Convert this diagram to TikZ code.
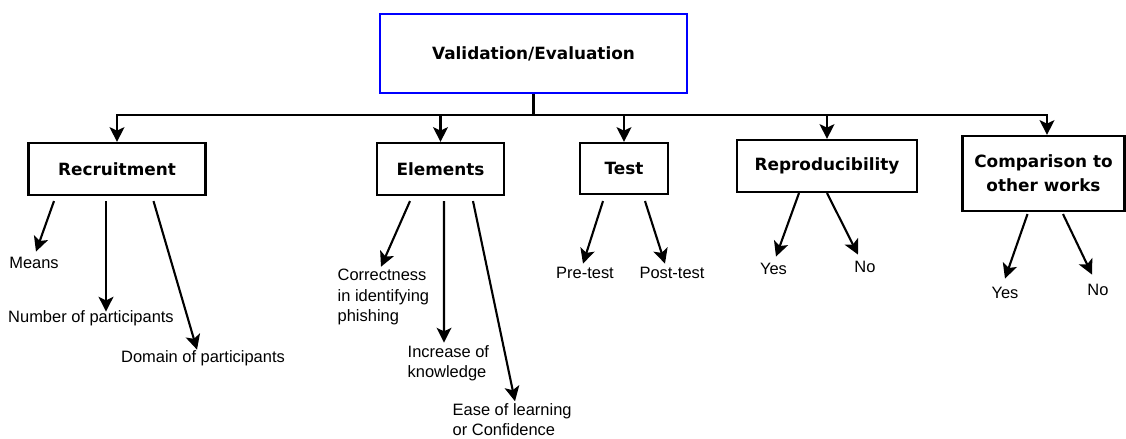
\documentclass[tikz,border=0pt]{standalone}
\usepackage{fontspec}
\setmainfont{Liberation Sans}
\newfontfamily\boxfont{DejaVu Sans}
\usetikzlibrary{arrows.meta,calc}
\tikzset{
    box/.style={draw, line width=1.5pt, inner sep=2pt, align=center,
        font=\boxfont\bfseries\fontsize{12}{17}\selectfont},
    leaf/.style={inner sep=1pt, align=left, font=\fontsize{11.7}{14.3}\selectfont},
    arr/.style={line width=1.5pt, -{Stealth[length=10.5pt,width=10.5pt,inset=2.5pt]}}
}
\begin{document}
\begin{tikzpicture}[x=0.025cm, y=-0.025cm]
            \useasboundingbox (0,0) rectangle (1126,439);
            \node (b0) at (533.5,53.5) [box, draw=blue, minimum width=7.675cm, minimum height=1.975cm] {Validation/Evaluation};
            \node (b1) at (117,169) [box, minimum width=4.425cm, minimum height=1.3cm] {Recruitment};
            \node (b2) at (440.5,169) [box, minimum width=3.175cm, minimum height=1.3cm] {Elements};
            \node (b3) at (624,168.5) [box, minimum width=2.2cm, minimum height=1.275cm] {Test};
            \node (b4) at (827,166) [box, minimum width=4.5cm, minimum height=1.3cm] {Reproducibility};
            \node (b5) at (1043.5,173.5) [box, minimum width=4.05cm, minimum height=1.875cm] {Comparison to\\other works};
            \draw[arr] (b0.south) -- ++(0,21) -| (b1.north);
            \draw[arr] (b0.south) -- ++(0,21) -| (b2.north);
            \draw[arr] (b0.south) -- ++(0,21) -| (b3.north);
            \draw[arr] (b0.south) -- ++(0,21) -| (b4.north);
            \draw[arr] (b0.south) -- ++(0,21) -| ($(b5.north)+(3.5,0)$);

            \node (l1) at (34,263) [leaf] {Means};
            \node (l2) at (91,318) [leaf] {Number of participants};
            \node (l3) at (203,358) [leaf] {Domain of participants};
            \draw[arr] ($(b1.south)+(-63,5)$) -- ($(l1.north)+(2,-4)$);
            \draw[arr] ($(b1.south)+(-11,5)$) -- ($(l2.north)+(15,3)$);
            \draw[arr] ($(b1.south)+(36.5,5)$) -- ($(l3.north)+(-6,1)$);

            \node (l4) at (336,297) [leaf, anchor=west] {Correctness\\in identifying\\phishing};
            \node (l5) at (406,363) [leaf, anchor=west] {Increase of\\knowledge};
            \node (l6) at (451,420) [leaf, anchor=west] {Ease of learning\\or Confidence};
            \draw[arr] ($(b2.south)+(-30.5,5)$) -- ($(l4.north west)+(45,-1)$);
            \draw[arr] ($(b2.south)+(3.5,5)$) -- ($(l5.north west)+(38,-1)$);
            \draw[arr] ($(b2.south)+(32.5,5)$) -- ($(l6.north west)+(64,-1)$);

            \node (l7) at (585,273) [leaf] {Pre-test};
            \node (l8) at (672,273) [leaf] {Post-test};
            \draw[arr] ($(b3.south)+(-21,6)$) -- ($(l7.north)+(-2,-2)$);
            \draw[arr] ($(b3.south)+(21,6)$) -- ($(l8.north)+(-7,-2)$);

            \node (l9) at (773.5,269) [leaf] {Yes};
            \node (l10) at (865,267) [leaf] {No};
            \draw[arr] ($(b4.south)+(-28,0)$) -- ($(l9.north)+(2.5,-5)$);
            \draw[arr] (b4.south) -- ($(l10.north)+(-7,-5)$);

            \node (l11) at (1005,293) [leaf] {Yes};
            \node (l12) at (1098,290) [leaf] {No};
            \draw[arr] ($(b5.south)+(-16,2)$) -- ($(l11.north)+(0,-7)$);
            \draw[arr] ($(b5.south)+(19.5,2)$) -- ($(l12.north)+(-6,-8)$);
        \end{tikzpicture}
\end{document}
